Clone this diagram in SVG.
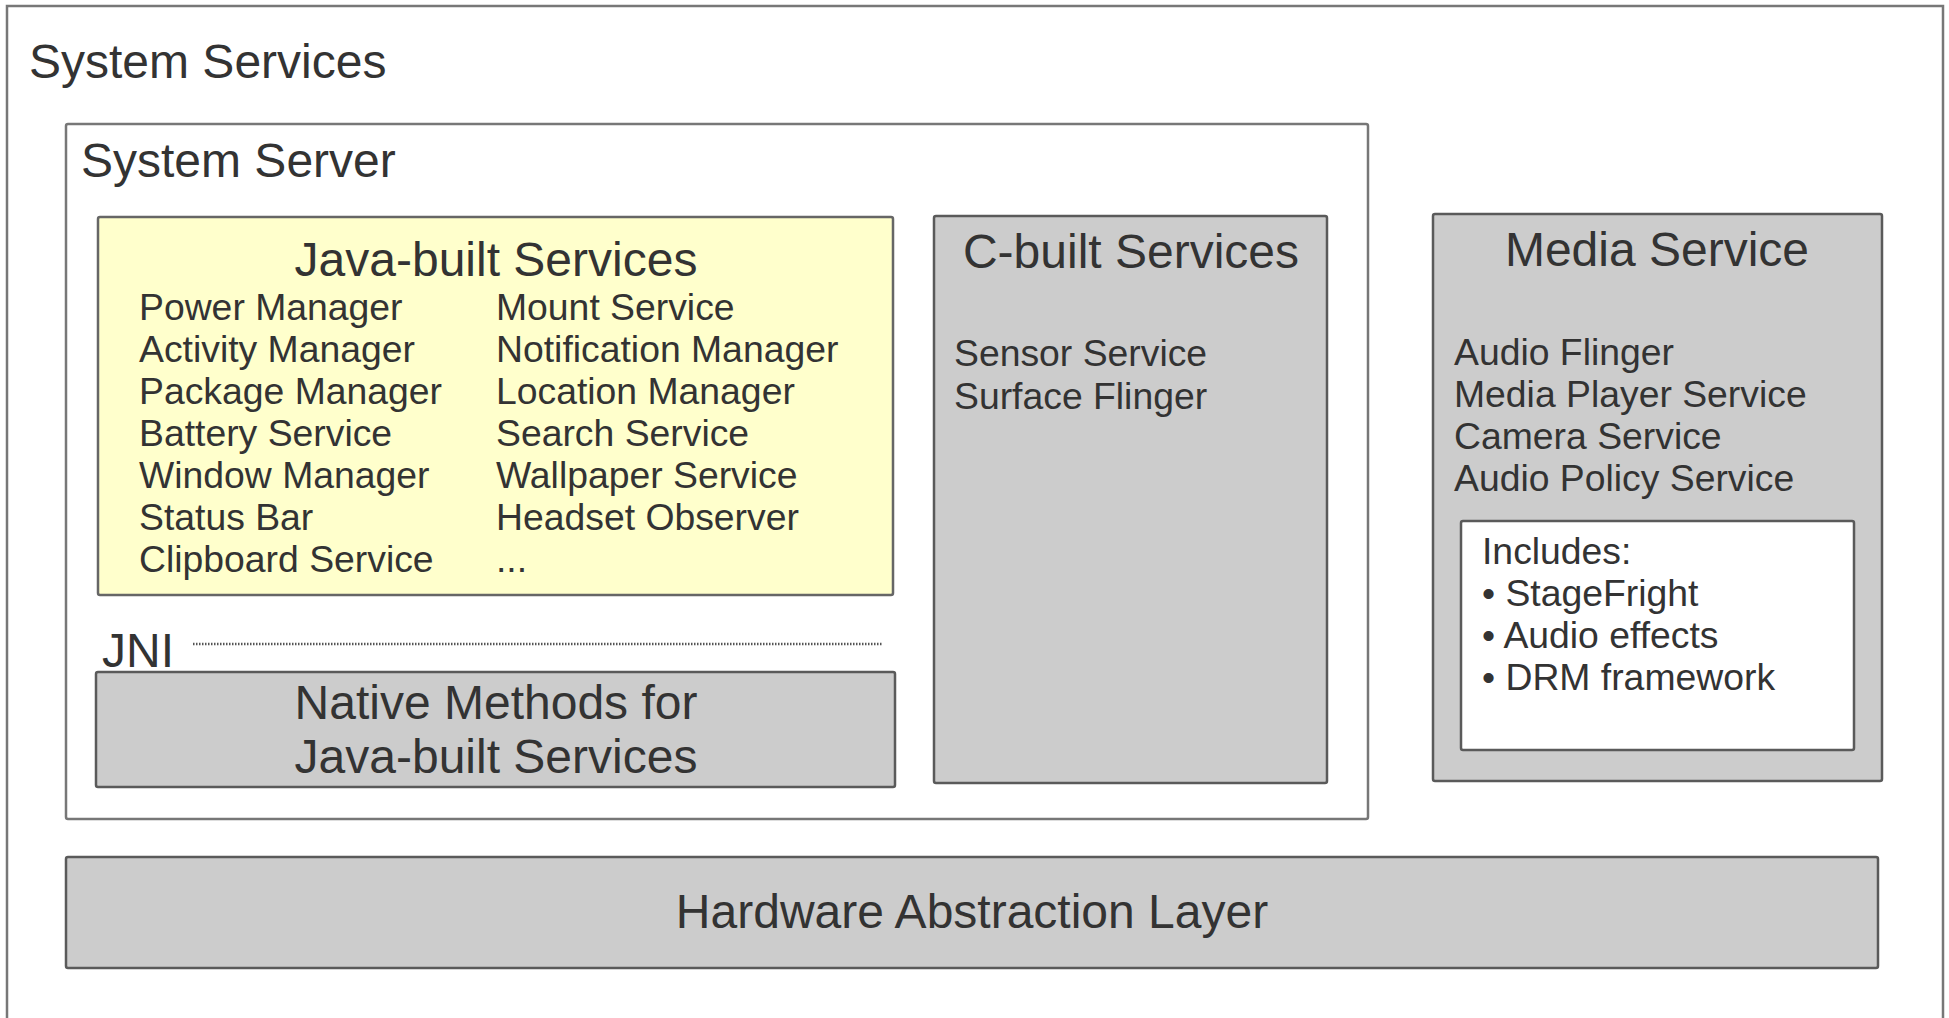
<svg xmlns="http://www.w3.org/2000/svg" width="1949" height="1018" viewBox="0 0 1949 1018">
  <style>
    text { font-family: "Liberation Sans", Arial, sans-serif; fill: #333333; }
    .t48 { font-size: 48px; }
    .t37 { font-size: 37.33px; }
    .mid { text-anchor: middle; }
    .frame { fill: #ffffff; stroke: #777777; stroke-width: 2.5; }
    .gray { fill: #cccccc; stroke: #5a5a5a; stroke-width: 2.5; }
    .yellow { fill: #ffffcc; stroke: #666666; stroke-width: 2.5; }
    .white { fill: #ffffff; stroke: #5a5a5a; stroke-width: 2.5; }
    .dots { stroke: #555555; stroke-width: 2.5; stroke-dasharray: 1.5 1.5; fill: none; }
  </style>

  <g id="system-services">
    <rect class="frame" x="7" y="6" width="1936" height="1030"/>
    <text class="t48" x="29" y="78">System Services</text>
  </g>

  <g id="system-server">
    <rect class="frame" x="66" y="124" width="1302" height="695" rx="2"/>
    <text class="t48" x="81" y="177">System Server</text>
  </g>

  <g id="java-built-services">
    <rect class="yellow" x="98" y="217" width="795" height="378" rx="2"/>
    <text class="t48 mid" x="496" y="276">Java-built Services</text>
    <text class="t37" x="139" y="320">Power Manager</text>
    <text class="t37" x="139" y="362">Activity Manager</text>
    <text class="t37" x="139" y="404">Package Manager</text>
    <text class="t37" x="139" y="446">Battery Service</text>
    <text class="t37" x="139" y="488">Window Manager</text>
    <text class="t37" x="139" y="530">Status Bar</text>
    <text class="t37" x="139" y="572">Clipboard Service</text>
    <text class="t37" x="496" y="320">Mount Service</text>
    <text class="t37" x="496" y="362">Notification Manager</text>
    <text class="t37" x="496" y="404">Location Manager</text>
    <text class="t37" x="496" y="446">Search Service</text>
    <text class="t37" x="496" y="488">Wallpaper Service</text>
    <text class="t37" x="496" y="530">Headset Observer</text>
    <text class="t37" x="496" y="572">...</text>
  </g>

  <g id="connectors">
    <g id="jni">
      <text class="t48" x="102" y="667">JNI</text>
      <line class="dots" x1="193" y1="644" x2="883" y2="644"/>
    </g>
  </g>

  <g id="native-methods">
    <rect class="gray" x="96" y="672" width="799" height="115" rx="2"/>
    <text class="t48 mid" x="496" y="719">Native Methods for</text>
    <text class="t48 mid" x="496" y="773">Java-built Services</text>
  </g>

  <g id="c-built-services">
    <rect class="gray" x="934" y="216" width="393" height="567" rx="2"/>
    <text class="t48 mid" x="1131" y="268">C-built Services</text>
    <text class="t37" x="954" y="366">Sensor Service</text>
    <text class="t37" x="954" y="409">Surface Flinger</text>
  </g>

  <g id="media-service">
    <rect class="gray" x="1433" y="214" width="449" height="567" rx="2"/>
    <text class="t48 mid" x="1657" y="266">Media Service</text>
    <text class="t37" x="1454" y="365">Audio Flinger</text>
    <text class="t37" x="1454" y="407">Media Player Service</text>
    <text class="t37" x="1454" y="449">Camera Service</text>
    <text class="t37" x="1454" y="491">Audio Policy Service</text>
  </g>

  <g id="includes">
    <rect class="white" x="1461" y="521" width="393" height="229" rx="2"/>
    <text class="t37" x="1482" y="564">Includes:</text>
    <text class="t37" x="1482" y="606">• StageFright</text>
    <text class="t37" x="1482" y="648">• Audio effects</text>
    <text class="t37" x="1482" y="690">• DRM framework</text>
  </g>

  <g id="hardware-abstraction-layer">
    <rect class="gray" x="66" y="857" width="1812" height="111" rx="2"/>
    <text class="t48 mid" x="972" y="928">Hardware Abstraction Layer</text>
  </g>
</svg>
